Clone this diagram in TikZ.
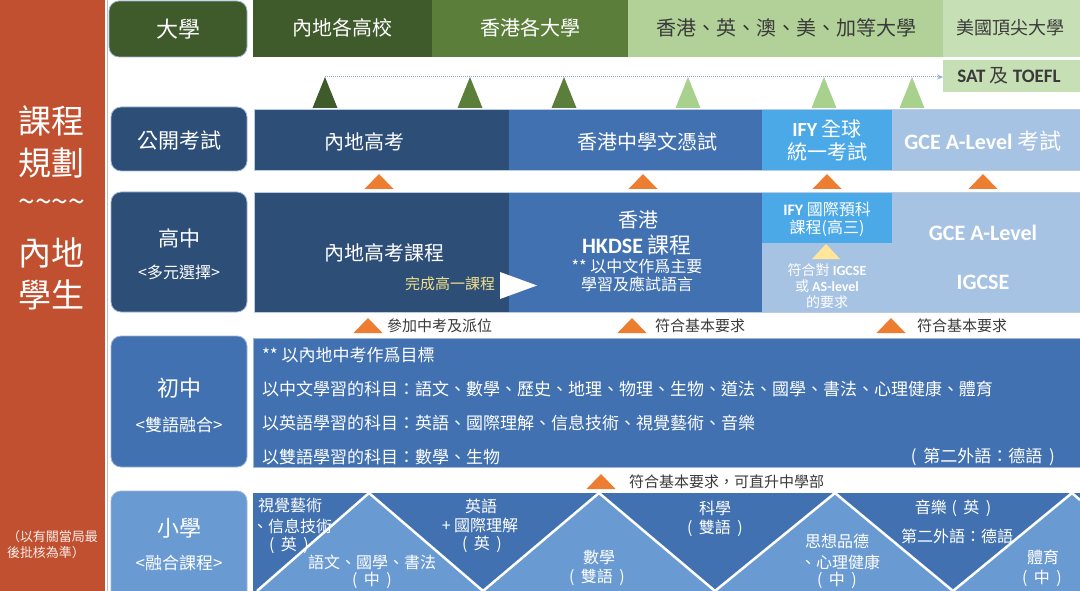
\documentclass[tikz,border=0pt]{standalone}
\usepackage{fontspec}
\setmainfont{Noto Sans CJK TC}
\newfontfamily\lat{Carlito}
\usetikzlibrary{arrows.meta}
\definecolor{redbar}{HTML}{C0502F}
\definecolor{gdark}{HTML}{3F5A2B}
\definecolor{gmid}{HTML}{5B7F3B}
\definecolor{glight}{HTML}{B1D198}
\definecolor{gtri}{HTML}{A9D18E}
\definecolor{glighter}{HTML}{C6DFB4}
\definecolor{bnavy}{HTML}{2D4E77}
\definecolor{bmid}{HTML}{4171B0}
\definecolor{bbright}{HTML}{4CA9E8}
\definecolor{blight}{HTML}{A7C3E3}
\definecolor{bsoft}{HTML}{6A9AD2}
\definecolor{orng}{HTML}{ED7D31}
\definecolor{ylw}{HTML}{FFE699}
\definecolor{ytext}{HTML}{F2E08A}
\definecolor{dtext}{HTML}{3A3A3A}
\definecolor{dotblue}{HTML}{8FAADC}
\definecolor{lblborder}{HTML}{9DB5D6}
\newcommand{\UpTri}[5]{\fill[#5] ({#1-#3/2},{#2+#4}) -- (#1,#2) -- ({#1+#3/2},{#2+#4}) -- cycle;}
\newcommand{\Pw}[1]{(\hspace{0.4em}#1\hspace{0.4em})}
\begin{document}
\begin{tikzpicture}[x=1pt,y=-1pt,
  t/.style={inner sep=0pt, outer sep=0pt},
  fsz/.style={font=\fontsize{#1}{#1}\selectfont},
  lbl/.style={rounded corners=10pt, draw=lblborder, line width=0.8pt},
  wt/.style={t, text=white},
  dt/.style={t, text=dtext}]
\useasboundingbox (0,0) rectangle (1080,591);
\fill[white] (0,0) rectangle (1080,591);

% ---- left red bar
\fill[redbar] (0,0) rectangle (105,591);
\draw[black!25, line width=0.8pt] (107.5,0) -- (107.5,591);
\node[wt, fsz=33] (ti1) at (52,121) {課程};
\node[wt, fsz=33] (ti2) at (52,163) {規劃};
\node[wt, fsz=30] (ti3) at (52,206) {\textasciitilde\textasciitilde\textasciitilde\textasciitilde};
\node[wt, fsz=33] (ti4) at (52,253) {內地};
\node[wt, fsz=33] (ti5) at (52,295) {學生};
\node[t, text=white!90!redbar, fsz=13, anchor=west] (no1) at (7,537) {（以有關當局最};
\node[t, text=white!90!redbar, fsz=13, anchor=west] (no2) at (7,553) {後批核為準）};

% ---- row 1: universities
\draw[lbl, fill=gdark] (109,1) rectangle (247,57);
\node[wt, fsz=22] (l1) at (178,29) {大學};
\fill[gdark] (253,0) rectangle (432,57);
\fill[gmid] (432,0) rectangle (628,57);
\fill[glight] (628,0) rectangle (943,57);
\fill[glighter] (943,0) rectangle (1080,57);
\node[wt, fsz=20] (u1) at (342,28) {內地各高校};
\node[wt, fsz=20] (u2) at (530,28) {香港各大學};
\node[dt, fsz=20] (u3) at (786,28) {香港、英、澳、美、加等大學};
\node[dt, fsz=18] (u4) at (1010,28) {美國頂尖大學};
\node[t, fill=glighter, minimum width=137pt, minimum height=32pt, anchor=north west, text=dtext, fsz=19] (sat) at (943,60)
  {\hspace*{-5pt}{\lat\bfseries SAT} 及 {\lat\bfseries TOEFL}};

% triangles row 1 -> 2
\UpTri{325}{77}{25}{31}{gdark}
\UpTri{470}{77}{25}{31}{gmid}
\UpTri{564}{77}{25}{31}{gmid}
\UpTri{688}{77}{25}{31}{gtri}
\UpTri{824}{77}{25}{31}{gtri}
\UpTri{912}{77}{25}{31}{gtri}
\coordinate (dstart) at (325,77);
\draw[dotblue, densely dotted, line width=1pt, -{Stealth[length=6pt,width=5pt]}] (dstart) -- (dstart -| sat.west);

% ---- row 2: public exams
\draw[lbl, fill=bnavy] (111,107) rectangle (247,171);
\node[wt, fsz=21] (l2) at (179,140) {公開考試};
\fill[bnavy] (254,109) rectangle (509,170);
\fill[bmid] (509,109) rectangle (762,170);
\fill[bbright] (762,109) rectangle (892,170);
\fill[blight] (892,109) rectangle (1080,170);
\draw[lblborder!70, line width=0.6pt] (254,109) rectangle (1080,170);
\node[wt, fsz=20] (e1) at (364,142) {內地高考};
\node[wt, fsz=20] (e2) at (647,142) {香港中學文憑試};
\node[wt, fsz=20] (e3a) at (827,129) {{\lat\bfseries IFY} 全球};
\node[wt, fsz=20] (e3b) at (827,152) {統一考試};
\node[wt, fsz=22] (e4) at (983,141) {{\lat\bfseries GCE A-Level} 考試};

% orange triangles row 2 -> 3
\UpTri{379}{174}{29}{15}{orng}
\UpTri{643}{174}{29}{15}{orng}
\UpTri{827}{174}{29}{15}{orng}
\UpTri{983}{174}{29}{15}{orng}

% ---- row 3: senior high
\draw[lbl, fill=bnavy] (111,192) rectangle (247,312);
\node[wt, fsz=21] (l3a) at (179,238) {高中};
\node[wt, fsz=16] (l3b) at (179,272) {<多元選擇>};
\fill[bnavy] (254,192) rectangle (509,312);
\fill[bmid] (509,192) rectangle (762,312);
\fill[blight] (762,192) rectangle (1080,312);
\fill[bbright] (762,192) rectangle (892,243);
\draw[lblborder!70, line width=0.6pt] (254,192) rectangle (1080,312);
\node[wt, fsz=20] (h1) at (384,253) {內地高考課程};
\node[t, text=ytext, fsz=15] (h1b) at (450,284) {完成高一課程};
\fill[white] (500,272) -- (537,285.5) -- (500,299) -- cycle;
\node[wt, fsz=20] (h2a) at (638,220) {香港};
\node[wt, fsz=22] (h2b) at (637,245) {{\lat\bfseries HKDSE} 課程};
\node[wt, fsz=16] (h2c) at (637,266) {** 以中文作爲主要};
\node[wt, fsz=16] (h2d) at (637,284) {學習及應試語言};
\node[wt, fsz=16] (h3a) at (827,209) {{\lat\bfseries IFY} 國際預科};
\node[wt, fsz=16] (h3b) at (827,228) {課程(高三)};
\UpTri{826}{244}{28}{15}{ylw}
\node[wt, fsz=14] (h3c) at (827,270) {符合對 {\lat\bfseries IGCSE}};
\node[wt, fsz=14] (h3d) at (827,286) {或 {\lat\bfseries AS-level}};
\node[wt, fsz=14] (h3e) at (827,302) {的要求};
\node[wt, fsz=22] (h4a) at (983,233) {\lat\bfseries GCE A-Level};
\node[wt, fsz=22] (h4b) at (983,282) {\lat\bfseries IGCSE};

% orange triangles row 3 -> 4
\UpTri{368}{318}{29}{15}{orng}
\UpTri{632}{318}{29}{15}{orng}
\UpTri{891}{318}{29}{15}{orng}
\node[dt, fsz=15, anchor=west] (c1) at (387,326) {參加中考及派位};
\node[dt, fsz=15, anchor=west] (c2) at (655,326) {符合基本要求};
\node[dt, fsz=15, anchor=west] (c3) at (917,326) {符合基本要求};

% ---- row 4: junior high
\draw[lbl, fill=bmid] (111,336) rectangle (247,467);
\node[wt, fsz=22] (l4a) at (179,388) {初中};
\node[wt, fsz=17] (l4b) at (179,425) {<雙語融合>};
\draw[fill=bmid, draw=lblborder, line width=0.6pt] (253,338) rectangle (1080,467);
\node[wt, fsz=17, anchor=west] (j1) at (262,355) {** 以內地中考作爲目標};
\node[wt, fsz=17, anchor=west] (j2) at (262,389) {以中文學習的科目：語文、數學、歷史、地理、物理、生物、道法、國學、書法、心理健康、體育};
\node[wt, fsz=17, anchor=west] (j3) at (262,423) {以英語學習的科目：英語、國際理解、信息技術、視覺藝術、音樂};
\node[wt, fsz=17, anchor=west] (j4) at (262,457) {以雙語學習的科目：數學、生物};
\node[wt, fsz=17, anchor=east] (j5) at (1055,457) {\Pw{第二外語：德語}};

% orange triangle row 4 -> 5
\UpTri{601}{474}{29}{15}{orng}
\node[dt, fsz=15, anchor=west] (c4) at (629,482) {符合基本要求，可直升中學部};

% ---- row 5: primary
\draw[lbl, fill=bsoft] (111,491) rectangle (247,610);
\node[wt, fsz=22] (l5a) at (179,528) {小學};
\node[wt, fsz=17] (l5b) at (179,563) {<融合課程>};
\fill[bmid] (253,493) rectangle (1080,591);
\fill[bsoft] (257,591) -- (369,493) -- (483,591) -- cycle;
\fill[bsoft] (483,591) -- (599,493) -- (715,591) -- cycle;
\fill[bsoft] (715,591) -- (835,493) -- (953,591) -- cycle;
\fill[bsoft] (953,591) -- (1072,493) -- (1080,500) -- (1080,591) -- cycle;
\draw[white, line width=2.5pt, line join=round] (257,591) -- (369,493) -- (483,591) -- (599,493) -- (715,591) -- (835,493) -- (953,591) -- (1072,493) -- (1080,500);

\node[wt, fsz=16] (p1a) at (290,506) {視覺藝術};
\node[wt, fsz=16] (p1b) at (292,526) {、信息技術};
\node[wt, fsz=16] (p1c) at (289,545) {\Pw{英}};
\node[wt, fsz=16] (p2a) at (372,562) {語文、國學、書法};
\node[wt, fsz=16] (p2b) at (372,580) {\Pw{中}};
\node[wt, fsz=16] (p3a) at (481,506) {英語};
\node[wt, fsz=16] (p3b) at (480,525) {+ 國際理解};
\node[wt, fsz=16] (p3c) at (482,544) {\Pw{英}};
\node[wt, fsz=16] (p4a) at (599,557) {數學};
\node[wt, fsz=16] (p4b) at (597,577) {\Pw{雙語}};
\node[wt, fsz=16] (p5a) at (715,508) {科學};
\node[wt, fsz=16] (p5b) at (715,528) {\Pw{雙語}};
\node[wt, fsz=16] (p6a) at (837,541) {思想品德};
\node[wt, fsz=16] (p6b) at (840,562) {、心理健康};
\node[wt, fsz=16] (p6c) at (837,580) {\Pw{中}};
\node[wt, fsz=16] (p7a) at (953,508) {音樂\hspace{0.3em}\Pw{英}};
\node[wt, fsz=16] (p7b) at (957,536) {第二外語：德語};
\node[wt, fsz=16] (p8a) at (1043,557) {體育};
\node[wt, fsz=16] (p8b) at (1042,578) {\Pw{中}};
\end{tikzpicture}
\end{document}
